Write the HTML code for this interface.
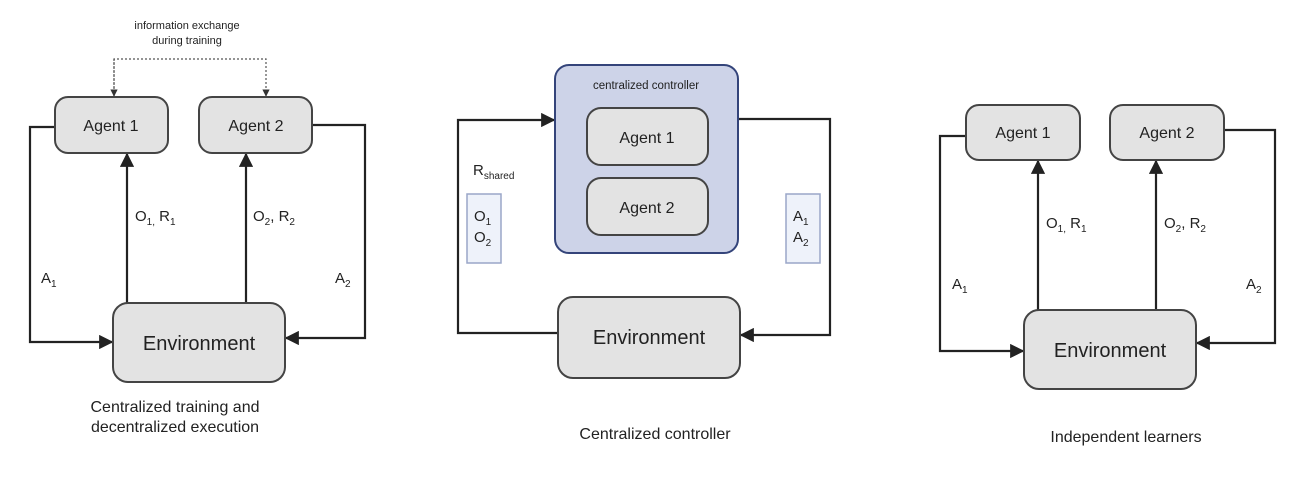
<!DOCTYPE html>
<html><head><meta charset="utf-8"><style>
body{margin:0;background:#fff;}
svg{display:block;font-family:"Liberation Sans",sans-serif;}
</style></head><body>
<svg width="1314" height="490" viewBox="0 0 1314 490" xmlns="http://www.w3.org/2000/svg">
<defs>
<marker id="ar" viewBox="0 0 10 10" refX="9" refY="5" markerWidth="6.5" markerHeight="6.5" orient="auto"><path d="M0,0 L10,5 L0,10 z" fill="#222"/></marker>
<marker id="ars" viewBox="0 0 10 10" refX="9" refY="5" markerWidth="6" markerHeight="6" orient="auto"><path d="M0,0 L10,5 L0,10 z" fill="#333"/></marker>
</defs>
<g stroke="#222" stroke-width="2.2" fill="none">
<polyline points="114,96 114,59 266,59 266,96" stroke="#555" stroke-width="1.2" stroke-dasharray="2,2" marker-end="url(#ars)"/>
<line x1="114" y1="59" x2="114" y2="96" stroke="#555" stroke-width="1.2" stroke-dasharray="2,2" marker-end="url(#ars)"/>
<polyline points="55,127 30,127 30,342 112,342" marker-end="url(#ar)"/>
<polyline points="312,125 365,125 365,338 286,338" marker-end="url(#ar)"/>
<line x1="127" y1="303" x2="127" y2="154" marker-end="url(#ar)"/>
<line x1="246" y1="303" x2="246" y2="154" marker-end="url(#ar)"/>
<polyline points="558,333 458,333 458,120 554,120" marker-end="url(#ar)"/>
<polyline points="738,119 830,119 830,335 741,335" marker-end="url(#ar)"/>
<polyline points="966,136 940,136 940,351 1023,351" marker-end="url(#ar)"/>
<polyline points="1224,130 1275,130 1275,343 1197,343" marker-end="url(#ar)"/>
<line x1="1038" y1="310" x2="1038" y2="161" marker-end="url(#ar)"/>
<line x1="1156" y1="310" x2="1156" y2="161" marker-end="url(#ar)"/>
</g>
<g fill="#e3e3e3" stroke="#444" stroke-width="2">
<rect x="55" y="97" width="113" height="56" rx="13"/>
<rect x="199" y="97" width="113" height="56" rx="13"/>
<rect x="113" y="303" width="172" height="79" rx="15"/>
<rect x="555" y="65" width="183" height="188" rx="14" fill="#cdd3e8" stroke="#34447a"/>
<rect x="587" y="108" width="121" height="57" rx="14"/>
<rect x="587" y="178" width="121" height="57" rx="14"/>
<rect x="558" y="297" width="182" height="81" rx="15"/>
<rect x="966" y="105" width="114" height="55" rx="13"/>
<rect x="1110" y="105" width="114" height="55" rx="13"/>
<rect x="1024" y="310" width="172" height="79" rx="15"/>
</g>
<rect x="467" y="194" width="34" height="69" fill="#eef2fa" stroke="#9aa6c8" stroke-width="1.5"/>
<rect x="786" y="194" width="34" height="69" fill="#eef2fa" stroke="#9aa6c8" stroke-width="1.5"/>
<g fill="#222" font-size="16" text-anchor="middle">
<text x="111" y="131">Agent 1</text>
<text x="256" y="131">Agent 2</text>
<text x="199" y="350" font-size="20">Environment</text>
<text x="647" y="143">Agent 1</text>
<text x="647" y="213">Agent 2</text>
<text x="649" y="344" font-size="20">Environment</text>
<text x="646" y="89" font-size="11.5">centralized controller</text>
<text x="1023" y="138">Agent 1</text>
<text x="1167" y="138">Agent 2</text>
<text x="1110" y="357" font-size="20">Environment</text>
<text x="187" y="29" font-size="11">information exchange</text>
<text x="187" y="44" font-size="11">during training</text>
<text x="175" y="412">Centralized training and</text>
<text x="175" y="432">decentralized execution</text>
<text x="655" y="439">Centralized controller</text>
<text x="1126" y="442">Independent learners</text>
</g>
<g fill="#222" font-size="15">
<text x="135" y="221">O<tspan font-size="10" dy="4">1,</tspan><tspan dy="-4"> R</tspan><tspan font-size="10" dy="4">1</tspan></text>
<text x="253" y="221">O<tspan font-size="10" dy="4">2</tspan><tspan dy="-4">, R</tspan><tspan font-size="10" dy="4">2</tspan></text>
<text x="41" y="283">A<tspan font-size="10" dy="4">1</tspan></text>
<text x="335" y="283">A<tspan font-size="10" dy="4">2</tspan></text>
<text x="473" y="175">R<tspan font-size="10" dy="4">shared</tspan></text>
<text x="474" y="221">O<tspan font-size="10" dy="4">1</tspan></text>
<text x="474" y="242">O<tspan font-size="10" dy="4">2</tspan></text>
<text x="793" y="221">A<tspan font-size="10" dy="4">1</tspan></text>
<text x="793" y="242">A<tspan font-size="10" dy="4">2</tspan></text>
<text x="1046" y="228">O<tspan font-size="10" dy="4">1,</tspan><tspan dy="-4"> R</tspan><tspan font-size="10" dy="4">1</tspan></text>
<text x="1164" y="228">O<tspan font-size="10" dy="4">2</tspan><tspan dy="-4">, R</tspan><tspan font-size="10" dy="4">2</tspan></text>
<text x="952" y="289">A<tspan font-size="10" dy="4">1</tspan></text>
<text x="1246" y="289">A<tspan font-size="10" dy="4">2</tspan></text>
</g>
</svg>
</body></html>
